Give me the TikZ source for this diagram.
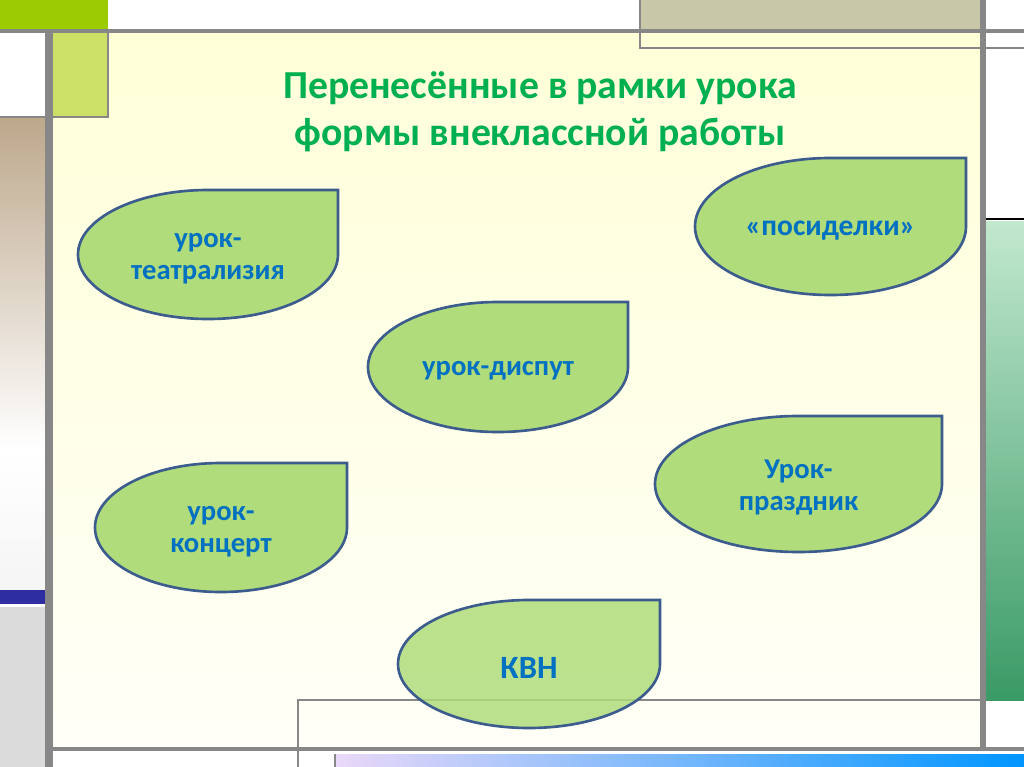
\documentclass[tikz,border=0pt]{standalone}
\usepackage{fontspec}
\setmainfont{Carlito}
\usetikzlibrary{positioning}
\definecolor{leafgreen}{HTML}{B0DC7C}
\definecolor{leafline}{HTML}{3B5C8C}
\definecolor{leafblue}{HTML}{0070C0}
\definecolor{titlegreen}{HTML}{00B050}
\definecolor{framegray}{HTML}{878787}
\definecolor{limegreen}{HTML}{9BCB00}
\definecolor{palelime}{HTML}{CCE066}
\definecolor{khaki}{HTML}{C8C8A8}
\definecolor{tan}{HTML}{BDA88C}
\definecolor{creamtop}{HTML}{FFFFD8}
\definecolor{creambot}{HTML}{FFFFF8}
\definecolor{mintlight}{HTML}{C2E8CE}
\definecolor{mintdark}{HTML}{3A9A66}
\definecolor{barblue}{HTML}{2E2EA0}
\definecolor{lavender}{HTML}{EAD8F8}
\definecolor{skyblue}{HTML}{0096FF}

% leaf: [style] name, left, top, right, bottom (pixels, y down), text
\newcommand{\leafnode}[6][]{%
  \draw[leafshape,#1] (#5,-#4) -- (#5,{-(#4+#6)/2})
    arc[start angle=0,end angle=-270,x radius={(#5-#3)/2},y radius={(#6-#4)/2}] -- cycle;
  \node[leaftext] (#2) at ({(#3+#5)/2},{-(#4+#6)/2-4})}

\begin{document}
\begin{tikzpicture}[x=0.02cm,y=0.02cm,
    leafshape/.style={fill=leafgreen,draw=leafline,line width=1.5pt},
    leaftext/.style={text=leafblue,font=\bfseries\fontsize{16.3}{18.2}\selectfont,align=center},
    frame/.style={draw=framegray,line width=#1},
    frame/.default=1pt]
  \useasboundingbox (0,0) rectangle (1024,-767);
  % background panels
  \shade[top color=creamtop,bottom color=creambot] (53,-33) rectangle (982,-748);
  \fill[limegreen] (0,0) rectangle (108,-30);
  \fill[khaki] (640,0) rectangle (980,-30);
  \draw[frame] (640,0) -- (640,-48) -- (1024,-48);
  \fill[palelime] (53,-33) rectangle (108,-117);
  \draw[frame] (108,-31) -- (108,-117) -- (0,-117);
  \shade[top color=tan,bottom color=white] (0,-119) rectangle (45,-450);
  \shade[top color=white,bottom color=black!4] (0,-450) rectangle (45,-590);
  \fill[barblue] (0,-590) rectangle (45,-604);
  \fill[black!14] (0,-607) rectangle (45,-767);
  \draw[black,line width=0.8pt] (984,-219) -- (1024,-219);
  \shade[top color=mintlight,bottom color=mintdark] (986,-221) rectangle (1024,-700);
  \draw[frame] (298,-767) -- (298,-700) -- (982,-700);
  \shade[left color=lavender,right color=skyblue] (335,-754) rectangle (1024,-767);
  \draw[frame=0.6pt] (335,-754) -- (335,-767);
  % heavy rules
  \draw[frame=1.8pt] (0,-31) -- (1024,-31);
  \draw[frame=4pt] (49,-31) -- (49,-767);
  \draw[frame=3pt] (983,0) -- (983,-750);
  \draw[frame=2.5pt] (53,-749) -- (1024,-749);
  % title
  \node[text=titlegreen,font=\bfseries\fontsize{22.6}{26.5}\selectfont,align=center] (title) at (540,-112)
    {Перенесённые в рамки урока\\формы внеклассной работы};
  % leaves
  \leafnode{teatr}{78}{190}{338}{319}{урок-\\театрализия};
  \leafnode{posid}{695}{158}{966}{295}{\fontsize{16.8}{19}\selectfont«посиделки»};
  \leafnode{disput}{368}{302}{628}{432}{урок-диспут};
  \leafnode{prazd}{655}{416}{942}{552}{Урок-\\праздник};
  \leafnode{koncert}{95}{463}{347}{592}{урок-\\концерт};
  \leafnode[fill opacity=0.85]{kvn}{398}{600}{660}{728}{\fontsize{18.5}{20}\selectfont КВН};
\end{tikzpicture}
\end{document}
